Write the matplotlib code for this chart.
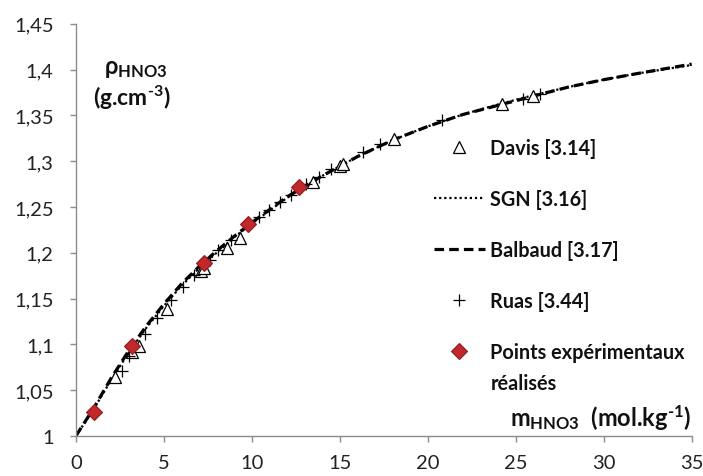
import matplotlib
matplotlib.use("Agg")
import matplotlib.pyplot as plt

plt.rcParams['font.family'] = ['Lato', 'DejaVu Sans']
plt.rcParams['mathtext.fontset'] = 'custom'
plt.rcParams['mathtext.rm'] = 'Lato'
plt.rcParams['mathtext.bf'] = 'Lato:bold'
plt.rcParams['mathtext.it'] = 'Lato:italic'

# Curves
curve_m = [0, 1, 2, 3, 4, 5, 6, 7, 8, 9, 10, 12, 14, 16, 18, 20, 22, 24, 26, 28, 30, 32, 35]
balbaud_rho = [1.000, 1.030, 1.063, 1.093, 1.120, 1.144, 1.166, 1.185, 1.202, 1.218, 1.233,
               1.261, 1.284, 1.305, 1.323, 1.338, 1.351, 1.361, 1.371, 1.381, 1.389, 1.396, 1.406]
sgn_rho = [1.000, 1.029, 1.061, 1.091, 1.118, 1.142, 1.164, 1.183, 1.200, 1.217, 1.232,
           1.260, 1.284, 1.305, 1.323, 1.338, 1.351, 1.362, 1.372, 1.381, 1.389, 1.396, 1.405]

# Davis [3.14]
davis_m = [2.2, 3.2, 3.6, 5.2, 7.1, 7.3, 8.6, 9.3, 13.5, 15.0, 15.2, 18.1, 24.2, 26.0]
davis_rho = [1.064, 1.092, 1.098, 1.139, 1.180, 1.183, 1.205, 1.216, 1.277, 1.295, 1.297, 1.324, 1.362, 1.371]

# Ruas [3.44]
ruas_m = [2.6, 3.0, 3.9, 4.6, 5.4, 6.1, 6.7, 7.6, 8.1, 8.8, 10.4, 11.0, 11.6, 12.2, 13.1,
          13.8, 14.5, 16.3, 17.3, 20.8, 25.4, 26.4]
ruas_rho = [1.071, 1.087, 1.111, 1.129, 1.148, 1.163, 1.176, 1.192, 1.203, 1.214, 1.239,
            1.247, 1.255, 1.263, 1.275, 1.283, 1.291, 1.310, 1.319, 1.345, 1.368, 1.373]

# Points expérimentaux réalisés
exp_m = [1.05, 3.2, 7.3, 9.8, 12.7]
exp_rho = [1.026, 1.098, 1.189, 1.231, 1.272]

yticks = [1.0, 1.05, 1.1, 1.15, 1.2, 1.25, 1.3, 1.35, 1.4, 1.45]
ytick_labels = ['1', '1,05', '1,1', '1,15', '1,2', '1,25', '1,3', '1,35', '1,4', '1,45']
xticks = [0, 5, 10, 15, 20, 25, 30, 35]
xtick_labels = ['0', '5', '10', '15', '20', '25', '30', '35']

fig = plt.figure(figsize=(7.03, 4.77), dpi=100)
ax = fig.add_axes([0.108, 0.084, 0.876, 0.864])

ax.plot(curve_m, sgn_rho, linestyle=(0, (1, 1.3)), color='black', lw=1.6,
        label='SGN [3.16]', zorder=2)
ax.plot(curve_m, balbaud_rho, linestyle=(0, (3.0, 1.6)), color='black', lw=2.3,
        label='Balbaud [3.17]', zorder=2)
ax.plot(davis_m, davis_rho, linestyle='none', marker='^', markersize=9,
        markerfacecolor='white', markeredgecolor='black', markeredgewidth=0.9,
        label='Davis [3.14]', zorder=3)
ax.plot(ruas_m, ruas_rho, linestyle='none', marker='+', markersize=9,
        color='black', markeredgewidth=0.9, label='Ruas [3.44]', zorder=4)
ax.plot(exp_m, exp_rho, linestyle='none', marker='D', markersize=8,
        markerfacecolor='#C0282C', markeredgecolor='#8E1C1F', markeredgewidth=0.8,
        label='Points expérimentaux', zorder=5)

ax.set_xlim(0, 35)
ax.set_ylim(1.0, 1.45)
ax.set_xticks(xticks)
ax.set_xticklabels(xtick_labels)
ax.set_yticks(yticks)
ax.set_yticklabels(ytick_labels)

for s in ['top', 'right']:
    ax.spines[s].set_visible(False)
for s in ['left', 'bottom']:
    ax.spines[s].set_color('#8c8c8c')
    ax.spines[s].set_linewidth(1.0)
ax.tick_params(axis='both', direction='out', length=4, width=1.0, color='#8c8c8c',
               labelsize=14.5, labelcolor='#222222', pad=9)
ax.tick_params(axis='y', pad=12)

# Axis titles
ax.text(0.045, 0.895, 'ρ$_{\\mathbf{HNO3}}$', transform=ax.transAxes, fontsize=17,
        fontweight='bold', ha='left', va='center', color='#111111')
ax.text(0.027, 0.822, '(g.cm$^{\\mathbf{\u2010 3}}$)', transform=ax.transAxes, fontsize=16.5,
        fontweight='bold', ha='left', va='center', color='#111111')
ax.text(0.999, 0.048, 'm$_{\\mathbf{HNO3}}$  (mol.kg$^{\\mathbf{\u20101}}$)', transform=ax.transAxes,
        fontsize=17, fontweight='bold', ha='right', va='center', color='#111111')

handles, labels = ax.get_legend_handles_labels()
order = [2, 0, 1, 3, 4]
leg = ax.legend([handles[i] for i in order], [labels[i] for i in order],
                loc='upper left', bbox_to_anchor=(0.568, 0.743), frameon=False,
                prop={'weight': 'bold', 'size': 14.3}, handlelength=2.6,
                handletextpad=0.25, labelspacing=1.56, borderaxespad=0)
for t in leg.get_texts():
    t.set_color('#111111')

fig.canvas.draw()
ax.annotate('réalisés', xy=(0, 0), xycoords=leg.get_texts()[-1],
            xytext=(0, -8), textcoords='offset points', ha='left', va='top',
            fontsize=14.3, fontweight='bold', color='#111111')

fig.savefig('out.png', dpi=100)
